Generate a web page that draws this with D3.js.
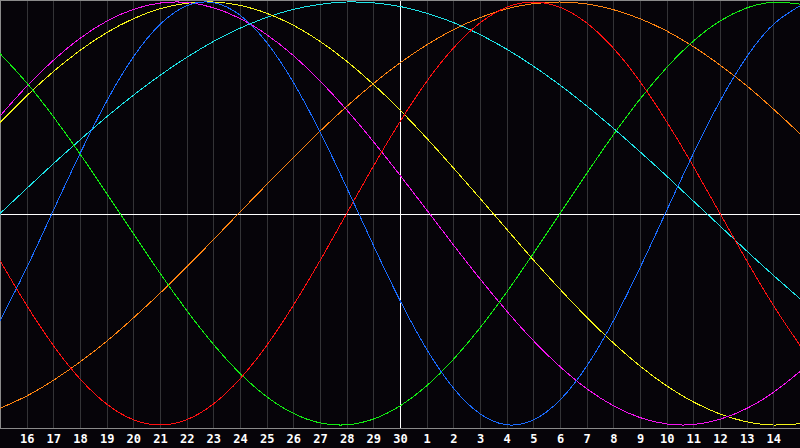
<!DOCTYPE html>
<html>
<head>
<meta charset="utf-8">
<script src="https://cdn.jsdelivr.net/npm/d3@7"></script>
<style>
  html, body { margin: 0; padding: 0; background: #060409; }
  svg { display: block; }
</style>
</head>
<body>
<svg id="chart" width="800" height="448"></svg>
<script>
// day labels under gridlines 1..29 (day 15 sits on both edges, unlabeled)
var dayLabels = [16,17,18,19,20,21,22,23,24,25,26,27,28,29,30,1,2,3,4,5,6,7,8,9,10,11,12,13,14];

// values per day, from day 15 (index 0) to day 15 of next month (index 30)
var blueVals = [-0.508,-0.257,0.014,0.283,0.531,0.740,0.894,0.982,0.997,0.938,0.809,0.620,0.386,0.123,-0.150,-0.411,-0.642,-0.825,-0.947,-0.999,-0.976,-0.882,-0.722,-0.508,-0.257,0.014,0.283,0.531,0.740,0.894,0.982];
var redVals = [-0.223,-0.434,-0.624,-0.782,-0.901,-0.975,-1.000,-0.975,-0.901,-0.782,-0.624,-0.434,-0.223,0.000,0.223,0.434,0.624,0.782,0.901,0.975,1.000,0.975,0.901,0.782,0.624,0.434,0.223,0.000,-0.223,-0.434,-0.624];
var greenVals = [0.756,0.618,0.458,0.282,0.095,-0.095,-0.282,-0.458,-0.618,-0.756,-0.866,-0.945,-0.990,-0.999,-0.972,-0.910,-0.815,-0.690,-0.541,-0.372,-0.189,0.000,0.189,0.372,0.541,0.690,0.815,0.910,0.972,0.999,0.990];
var cyanVals = [0.000,0.118,0.235,0.348,0.457,0.559,0.653,0.738,0.813,0.876,0.927,0.965,0.989,1.000,0.996,0.979,0.947,0.903,0.846,0.777,0.697,0.607,0.509,0.403,0.292,0.177,0.059,-0.059,-0.177,-0.292,-0.403];
var magentaVals = [0.461,0.601,0.724,0.828,0.909,0.965,0.995,0.998,0.973,0.922,0.846,0.747,0.627,0.490,0.340,0.181,0.017,-0.148,-0.309,-0.461,-0.601,-0.724,-0.828,-0.909,-0.965,-0.995,-0.998,-0.973,-0.922,-0.846,-0.747];
var yellowVals = [0.430,0.556,0.671,0.771,0.855,0.921,0.968,0.994,1.000,0.984,0.947,0.890,0.814,0.720,0.611,0.489,0.356,0.216,0.072,-0.074,-0.219,-0.358,-0.490,-0.612,-0.721,-0.815,-0.891,-0.948,-0.985,-1.000,-0.994];
var orangeVals = [-0.921,-0.863,-0.789,-0.702,-0.604,-0.494,-0.377,-0.253,-0.124,0.007,0.137,0.265,0.389,0.506,0.614,0.712,0.797,0.869,0.926,0.968,0.992,1.000,0.991,0.964,0.921,0.863,0.789,0.702,0.604,0.494,0.377];

var series = [
  {name: "cyan", color: "#1ee4e8", values: cyanVals},
  {name: "orange", color: "#ff8410", values: orangeVals},
  {name: "yellow", color: "#f4f418", values: yellowVals},
  {name: "magenta", color: "#f414f0", values: magentaVals},
  {name: "green", color: "#12ec12", values: greenVals},
  {name: "red", color: "#ff1010", values: redVals},
  {name: "blue", color: "#1a6cff", values: blueVals}
];

var svg = d3.select("#chart");
var W = 800, plotBottom = 428;

var x = d3.scaleLinear().domain([0, 30]).range([0, W]);
var y = d3.scaleLinear().domain([-1, 1]).range([425, 2]);

svg.append("rect").attr("width", W).attr("height", 448).attr("fill", "#060409");

// vertical day gridlines
svg.append("g").selectAll("line").data(d3.range(1, 30)).enter().append("line")
  .attr("x1", function(d) { return Math.round(x(d)) + 0.5; })
  .attr("x2", function(d) { return Math.round(x(d)) + 0.5; })
  .attr("y1", 0).attr("y2", plotBottom)
  .attr("stroke", function(d) { return d == 15 ? "#ffffff" : "#333336"; })
  .attr("stroke-width", 1)
  .attr("shape-rendering", "crispEdges");

// zero line
svg.append("line")
  .attr("x1", 0).attr("x2", W)
  .attr("y1", Math.round(y(0)) + 0.5).attr("y2", Math.round(y(0)) + 0.5)
  .attr("stroke", "#ffffff").attr("shape-rendering", "crispEdges");

// frame: top, left, bottom
svg.append("path")
  .attr("d", "M0.5," + (plotBottom + 0.5) + "V0.5H" + W + "M0," + (plotBottom + 0.5) + "H" + W)
  .attr("fill", "none").attr("stroke", "#8a8a8a").attr("shape-rendering", "crispEdges");

// curves
var line = d3.line()
  .x(function(d, i) { return x(i); })
  .y(function(d) { return y(d); })
  .curve(d3.curveNatural);

svg.append("g").selectAll("path").data(series).enter().append("path")
  .attr("d", function(s) { return line(s.values); })
  .attr("fill", "none")
  .attr("stroke", function(s) { return s.color; })
  .attr("stroke-width", 1)
  .attr("shape-rendering", "crispEdges");

// day labels
var axis = d3.axisBottom(x)
  .tickValues(d3.range(1, 30))
  .tickFormat(function(d, i) { return dayLabels[i]; })
  .tickSize(0)
  .tickPadding(0);

var gx = svg.append("g").attr("transform", "translate(0," + (plotBottom + 6) + ")").call(axis);
gx.select(".domain").remove();
gx.selectAll("text")
  .attr("fill", "#ffffff")
  .attr("dy", "0.72em")
  .style("font-family", "'DejaVu Sans Mono', monospace")
  .style("font-weight", "bold")
  .style("font-size", "12px");
</script>
</body>
</html>
